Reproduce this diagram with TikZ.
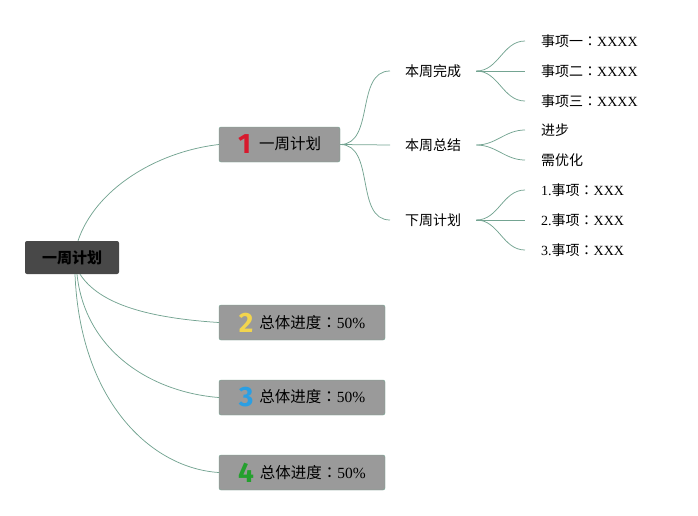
\documentclass[tikz,border=0pt]{standalone}
\usepackage{fontspec}
\setmainfont{Liberation Serif}
\newfontfamily\cjk{Noto Sans CJK SC}
\newfontfamily\cjkp{Noto Sans CJK TC}
\newfontfamily\numfont{Fira Sans}
\usetikzlibrary{positioning,calc}
\definecolor{linkc}{HTML}{74A492}
\definecolor{boxc}{HTML}{9A9A9A}
\definecolor{rootc}{HTML}{484848}
\definecolor{numA}{HTML}{D7192D}
\definecolor{numB}{HTML}{F2D54E}
\definecolor{numC}{HTML}{2B9FE3}
\definecolor{numD}{HTML}{24A02E}
\newcommand{\zh}[1]{{\cjk #1}}
\newcommand{\zhcolon}{{\cjkp ：}}
\newcommand{\bignum}[2]{{\numfont\bfseries\fontsize{28}{28}\selectfont\textcolor{#1}{#2}}}

\begin{document}
\begin{tikzpicture}
[x=1pt,y=-1pt,
 root/.style={fill=rootc,rounded corners=2pt,minimum width=94pt,minimum height=33pt,inner sep=0pt,font=\cjk\bfseries\fontsize{15}{18}\selectfont},
 topic/.style={draw=linkc,fill=boxc,rounded corners=2pt,minimum height=35pt,inner sep=0pt,font=\fontsize{15.5}{18}\selectfont},
 sub/.style={anchor=west,inner xsep=15pt,inner ysep=0pt,font=\cjk\fontsize{14}{16}\selectfont},
 leaf/.style={anchor=west,inner xsep=16pt,inner ysep=0pt,font=\fontsize{14}{16}\selectfont},
 link/.style={draw=linkc,line width=0.75pt}]
\useasboundingbox (0,0) rectangle (698,515);
%% root
\node[root] (R) at (72,257.5) {一周计划};
%% main topics
\node[topic,minimum width=121pt] (T1) at (279.5,144.5) {\bignum{numA}{1}\hspace{8pt}\raisebox{4pt}{\zh{一周计划}}};
\node[topic,minimum width=166pt] (T2) at (302,322.5) {\bignum{numB}{2}\hspace{6pt}\raisebox{4pt}{\zh{总体进度}\zhcolon 50\%}};
\node[topic,minimum width=166pt] (T3) at (302,397.5) {\bignum{numC}{3}\hspace{6pt}\raisebox{4pt}{\zh{总体进度}\zhcolon 50\%}};
\node[topic,minimum width=166pt] (T4) at (302,472.5) {\bignum{numD}{4}\hspace{6pt}\raisebox{4pt}{\zh{总体进度}\zhcolon 50\%}};
%% edges
\draw[link] ([xshift=6pt]R.north) .. controls (95,190) and (155,152) .. (T1.west);
\draw[link] ([xshift=8pt]R.south) .. controls (100,305) and (150,318) .. (T2.west);
\draw[link] ([xshift=5pt]R.south) .. controls (85,350) and (150,392) .. (T3.west);
\draw[link] ([xshift=3pt]R.south) .. controls (80,400) and (150,468) .. (T4.west);
%
%% second level
\node[sub] (C1) at (390,71) {本周完成};
\node[sub] (C2) at (390,145) {本周总结};
\node[sub] (C3) at (390,220) {下周计划};
%% edges
\draw[link] (T1.east) to[out=0,in=180] (C1.west);
\draw[link] (T1.east) -- (C2.west);
\draw[link] (T1.east) to[out=0,in=180] (C3.west);
%
%% leaves
\node[leaf] (L1) at (525,41) {\zh{事项一}\zhcolon XXXX};
\node[leaf] (L2) at (525,71) {\zh{事项二}\zhcolon XXXX};
\node[leaf] (L3) at (525,101) {\zh{事项三}\zhcolon XXXX};
\node[leaf] (L4) at (525,130) {\zh{进步}};
\node[leaf] (L5) at (525,160) {\zh{需优化}};
\node[leaf] (L6) at (525,190) {1.\zh{事项}\zhcolon XXX};
\node[leaf] (L7) at (525,220) {2.\zh{事项}\zhcolon XXX};
\node[leaf] (L8) at (525,250) {3.\zh{事项}\zhcolon XXX};
%% edges
\draw[link] (C1.east) to[out=0,in=180] (L1.west);
\draw[link] (C1.east) -- (L2.west);
\draw[link] (C1.east) to[out=0,in=180] (L3.west);
\draw[link] (C2.east) to[out=0,in=180] (L4.west);
\draw[link] (C2.east) to[out=0,in=180] (L5.west);
\draw[link] (C3.east) to[out=0,in=180] (L6.west);
\draw[link] (C3.east) -- (L7.west);
\draw[link] (C3.east) to[out=0,in=180] (L8.west);
\end{tikzpicture}
\end{document}
